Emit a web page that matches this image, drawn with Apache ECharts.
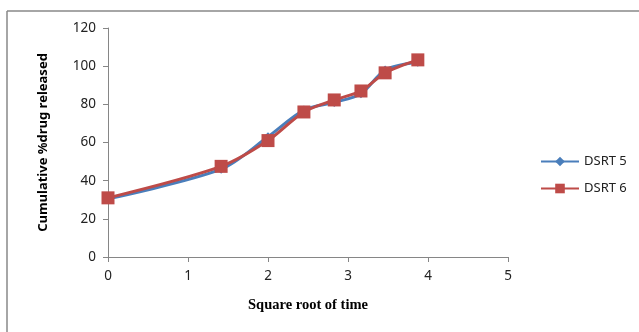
<!DOCTYPE html>
<html>
<head>
<meta charset="utf-8">
<script src="https://cdn.jsdelivr.net/npm/echarts@6/dist/echarts.min.js"></script>
<style>
  html, body { margin: 0; padding: 0; background: #fff; }
  #chart { width: 639px; height: 332px; }
</style>
</head>
<body>
<div id="chart"></div>
<script>
// square root of time (sqrt of 0,2,4,6,8,10,12,15)
const sqrtTime = [0, 1.414, 2, 2.449, 2.828, 3.162, 3.464, 3.873];
const dsrt5 = [30.5, 46, 63, 77, 81, 85.5, 98, 102];
const dsrt6 = [31, 47.5, 61, 76, 82.3, 87, 96.5, 103.3];
const xTicks = [0, 1, 2, 3, 4, 5];
const yTicks = [0, 20, 40, 60, 80, 100, 120];

const pairs = (ys) => sqrtTime.map((x, i) => [x, ys[i]]);

const chart = echarts.init(document.getElementById('chart'));
const tickFont = { color: '#222', fontFamily: 'Noto Sans', fontSize: 13.5 };
const axisGray = '#868686';

chart.setOption({
    animation: false,
    color: ['#4A7EBB', '#BE4B48'],
    grid: { left: 108, right: 131, top: 28, bottom: 75 },
    graphic: [
        { type: 'line', shape: { x1: 7, y1: 11, x2: 639, y2: 11 }, style: { stroke: '#888', lineWidth: 1.5 } },
        { type: 'line', shape: { x1: 7, y1: 11, x2: 7, y2: 332 }, style: { stroke: '#888', lineWidth: 1.5 } }
    ],
    legend: {
        orient: 'vertical',
        left: 535,
        top: 150,
        itemGap: 14,
        itemWidth: 38,
        itemHeight: 12,
        textStyle: { color: '#222', fontFamily: 'Noto Sans', fontSize: 13 },
        data: ['DSRT 5', 'DSRT 6']
    },
    xAxis: {
        type: 'value',
        min: xTicks[0],
        max: xTicks[xTicks.length - 1],
        interval: 1,
        name: 'Square root of time',
        nameLocation: 'middle',
        nameGap: 41,
        nameTextStyle: { fontFamily: 'Liberation Serif', fontWeight: 'bold', fontSize: 14.5, color: '#000' },
        axisLine: { lineStyle: { color: axisGray } },
        axisTick: { show: true, lineStyle: { color: axisGray } },
        axisLabel: Object.assign({ margin: 12 }, tickFont),
        splitLine: { show: false }
    },
    yAxis: {
        type: 'value',
        min: yTicks[0],
        max: yTicks[yTicks.length - 1],
        interval: 20,
        name: 'Cumulative %drug released',
        nameLocation: 'middle',
        nameGap: 58,
        nameTextStyle: { fontFamily: 'Noto Sans', fontWeight: 'bold', fontSize: 13, color: '#000' },
        axisLine: { show: true, lineStyle: { color: axisGray } },
        axisTick: { show: true, lineStyle: { color: axisGray } },
        axisLabel: Object.assign({ margin: 12 }, tickFont),
        splitLine: { show: false }
    },
    series: [
        {
            name: 'DSRT 5',
            type: 'line',
            smooth: 0.3,
            data: pairs(dsrt5),
            symbol: 'diamond',
            symbolSize: 9,
            lineStyle: { width: 3 },
            z: 2
        },
        {
            name: 'DSRT 6',
            type: 'line',
            smooth: 0.3,
            data: pairs(dsrt6),
            symbol: 'rect',
            symbolSize: 13,
            lineStyle: { width: 3 },
            z: 3
        }
    ]
});
</script>
</body>
</html>
